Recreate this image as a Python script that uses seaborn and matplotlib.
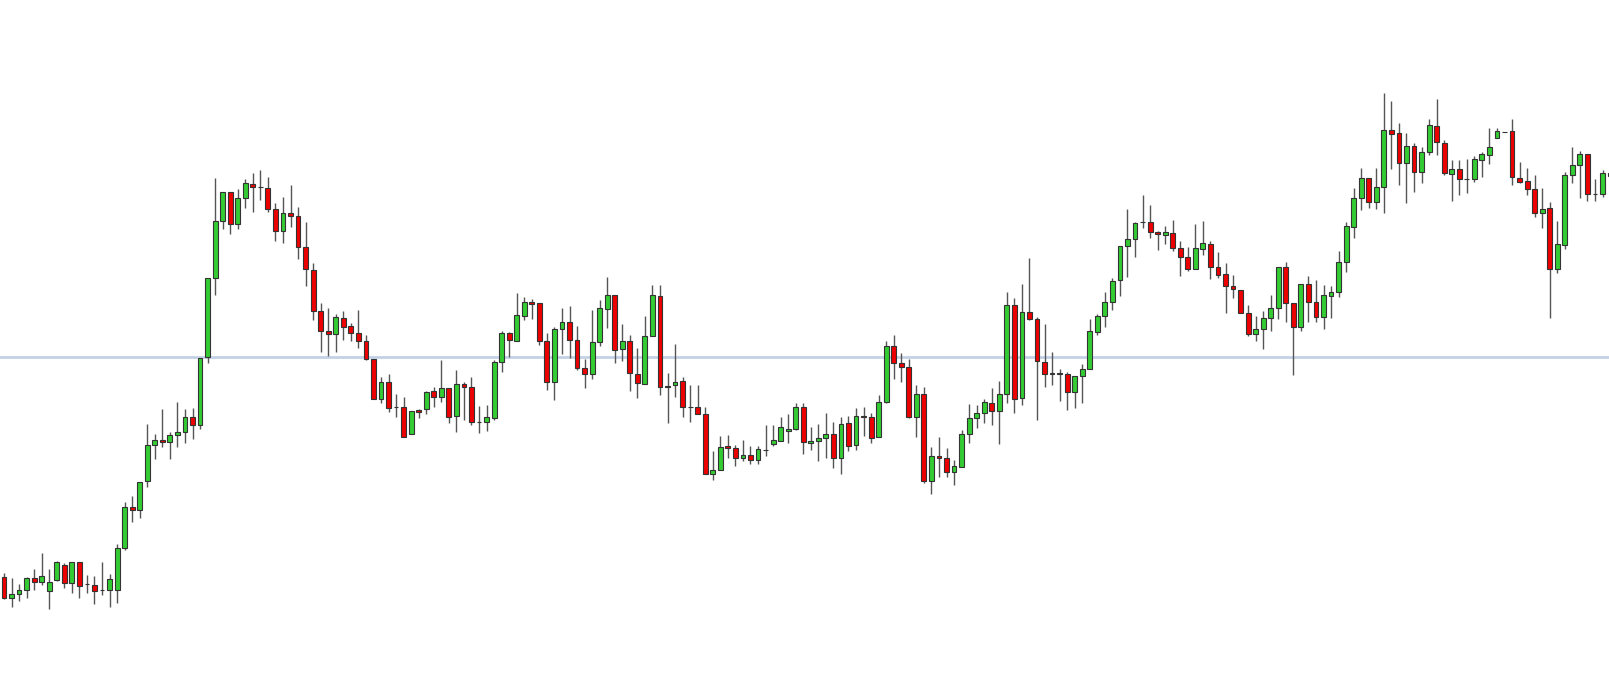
import matplotlib
matplotlib.use("Agg")
import matplotlib.pyplot as plt
import seaborn as sns
import numpy as np
import pandas as pd

# OHLC values (price units)
opens = [97,76,80,84,96,92,83,94,109,91,112,90,89,84,84,84,126,167,164,193,
         229,234,232,239,242,257,249,317,396,453,482,450,476,490,487,486,465,443,461,458,
         427,404,363,343,340,356,348,341,333,315,275,292,267,267,240,264,265,283,277,286,
         258,290,287,252,252,256,312,341,333,358,372,371,333,292,345,352,334,306,300,332,
         365,379,325,333,300,290,338,378,287,289,293,267,267,260,200,204,228,226,216,219,
         214,224,230,233,243,245,267,231,233,236,240,216,251,229,258,257,237,272,328,311,
         307,257,280,193,218,216,202,207,240,256,261,271,263,280,369,276,362,355,312,300,
         301,300,282,298,305,342,358,372,394,428,435,452,452,442,439,441,426,417,405,425,
         430,407,400,388,384,361,340,345,356,366,407,371,347,390,372,357,378,382,412,447,
         476,496,472,487,544,541,511,528,502,522,548,531,500,505,495,495,514,519,536,542,
         543,496,493,485,461,466,405,429,499,509,520,480,480,501]
highs = [101,96,90,97,105,121,105,113,111,112,112,99,98,112,100,130,172,178,192,250,
         240,265,242,272,265,266,316,396,496,482,482,485,495,501,504,497,471,477,489,467,
         452,411,371,366,360,363,351,364,339,315,297,300,280,277,263,265,283,287,314,286,
         304,292,297,268,269,314,343,342,381,377,375,371,341,347,366,368,348,315,364,374,
         397,379,350,339,326,358,389,389,301,330,297,289,289,267,223,238,239,229,234,228,
         228,249,249,257,260,271,271,247,250,261,252,257,258,266,267,261,279,333,339,321,
         315,289,287,227,237,226,214,244,270,269,275,286,293,382,376,390,416,357,350,322,
         305,302,298,310,355,360,382,396,428,465,452,479,469,443,448,454,433,427,450,453,
         433,422,411,399,384,369,358,363,379,407,412,371,390,398,394,389,388,423,452,486,
         506,496,506,581,573,551,541,531,527,555,575,534,514,514,515,518,522,546,546,542,
         555,512,506,499,486,472,453,502,527,523,520,495,504,504]
lows = [75,67,73,76,84,89,65,93,86,81,76,81,70,79,67,71,124,152,156,187,
        215,227,215,227,231,235,245,311,379,445,440,445,466,462,474,462,433,431,447,415,
        388,354,322,318,322,334,333,326,314,275,271,262,257,237,240,256,260,267,272,251,
        242,254,249,241,243,254,302,317,333,354,355,329,284,274,320,316,304,286,295,328,
        346,311,313,283,276,290,338,279,251,277,257,252,260,200,194,204,216,208,213,210,
        210,218,228,233,231,244,220,224,213,216,206,200,223,224,238,231,237,271,295,292,
        256,237,191,180,197,197,189,207,231,246,251,249,230,271,261,269,354,254,287,289,
        273,264,266,271,305,339,347,364,378,397,417,446,436,424,430,423,398,403,405,419,
        395,396,361,376,361,338,333,325,343,355,352,299,343,352,352,345,356,377,402,436,
        464,466,465,461,505,489,471,482,491,519,519,499,473,479,481,492,497,510,536,542,
        489,491,479,457,446,356,401,425,491,476,473,473,477,494]
closes = [76,80,84,96,92,98,92,112,91,112,88,90,83,84,95,126,167,164,192,229,
          234,232,239,242,257,249,316,396,453,482,450,476,491,487,487,465,443,461,458,427,
          405,363,343,340,357,347,341,333,315,275,292,266,267,237,263,262,282,277,286,257,
          290,287,252,252,257,312,341,334,359,372,370,333,292,345,352,334,306,300,332,366,
          379,324,333,301,291,338,379,287,288,292,267,267,260,200,204,227,226,216,219,214,
          225,224,234,247,245,267,232,233,236,240,216,250,228,258,257,236,272,328,311,307,
          257,280,193,218,216,202,208,240,256,261,272,263,280,369,275,362,355,313,300,301,
          300,282,298,305,343,358,372,393,428,435,451,452,442,440,442,426,417,405,426,431,
          407,399,388,385,361,340,345,356,366,407,371,347,390,372,357,379,382,412,448,476,
          496,472,487,544,540,511,528,502,522,549,532,501,505,495,495,515,520,527,543,542,
          497,492,485,461,465,405,430,499,509,520,480,480,501,498]
reference_level = 317

df = pd.DataFrame({"open": opens, "high": highs, "low": lows, "close": closes})
df["idx"] = np.arange(len(df))
df["up"] = df["close"] >= df["open"]

sns.set_theme(style="white")
fig = plt.figure(figsize=(16.09, 6.74), dpi=100)
ax = fig.add_axes([0, 0, 1, 1])

# horizontal level
ax.axhline(reference_level, color="#c3d1e6", lw=2.0, zorder=1)

# wicks
ax.vlines(df["idx"], df["low"], df["high"], color="#555555", lw=1.0, zorder=2)

# bodies
green = "#33cc33"
red = "#ee0000"
colors = np.where(df["up"], green, red)
doji = df["open"] == df["close"]
colors = np.where(doji, "#333333", colors)
bottoms = np.minimum(df["open"], df["close"])
heights = np.abs(df["close"] - df["open"])
ax.bar(df["idx"], heights, bottom=bottoms, width=0.64, color=colors,
       edgecolor="#333333", linewidth=0.8, zorder=3)

ax.set_xlim(-0.53, 212.86)
ax.set_ylim(0, 674)
ax.axis("off")
sns.despine(left=True, bottom=True)
fig.savefig("out.png", dpi=100, facecolor="white")
